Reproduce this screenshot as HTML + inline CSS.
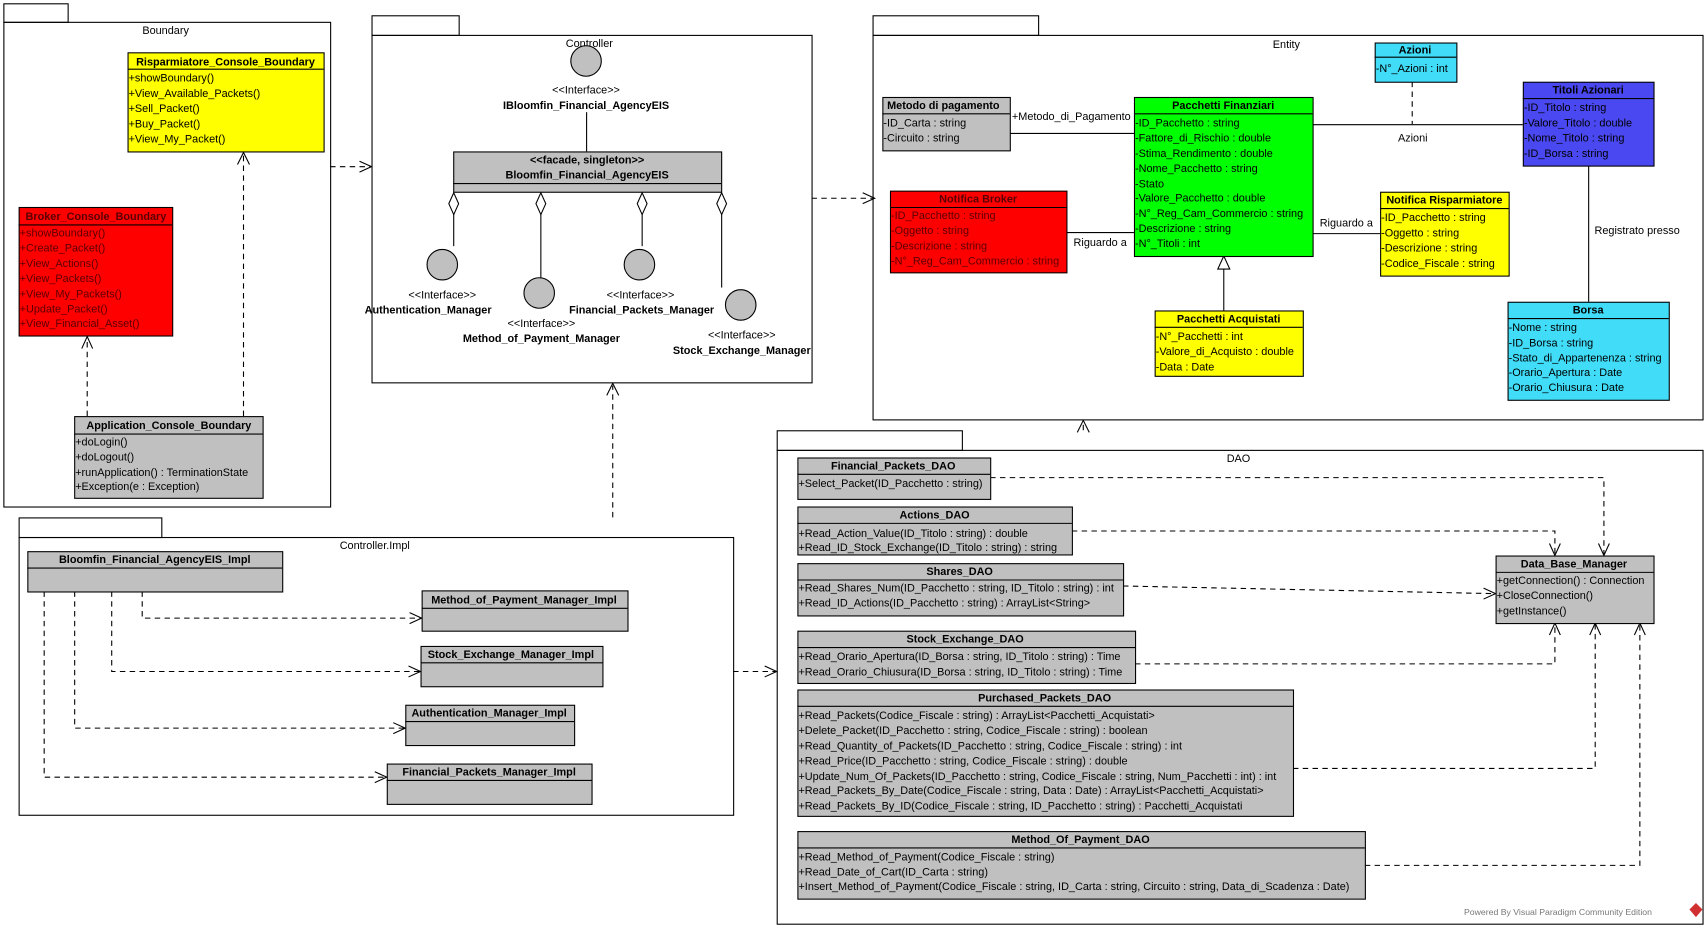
<!DOCTYPE html>
<html><head><meta charset="utf-8"><style>
html,body{margin:0;padding:0;background:#fff;}
svg{display:block}
text{font-family:"Liberation Sans",sans-serif;font-size:10px;fill:#000}
.b{font-weight:bold}
.c{text-anchor:middle}
.r text{fill:#5a0000}
</style></head><body>
<svg width="1708" height="928" viewBox="0 0 1568 852" xmlns="http://www.w3.org/2000/svg">
<g fill="none" stroke="#000" stroke-width="1">
<!-- packages -->
<rect x="3.5" y="3.5" width="59" height="17"/><rect x="3.5" y="20.5" width="300" height="445"/>
<rect x="341.5" y="14.5" width="80" height="18"/><rect x="341.5" y="32.5" width="404" height="319"/>
<rect x="801.5" y="14.5" width="152" height="18"/><rect x="801.5" y="32.5" width="762" height="353"/>
<rect x="17.5" y="475.5" width="131" height="18"/><rect x="17.5" y="493.5" width="656" height="255"/>
<rect x="713.5" y="395.5" width="170" height="18"/><rect x="713.5" y="413.5" width="850" height="435"/>
</g>
<text class="c" x="152" y="31">Boundary</text>
<text class="c" x="541" y="43">Controller</text>
<text class="c" x="1181" y="44">Entity</text>
<text class="c" x="344" y="504">Controller.Impl</text>
<text class="c" x="1137" y="424">DAO</text>

<!-- Boundary classes -->
<g stroke="#000">
<rect x="117.5" y="48.5" width="180" height="91" fill="#ffff00"/><line x1="117" y1="63.5" x2="297" y2="63.5"/>
<rect x="17.5" y="190.5" width="141" height="118" fill="#ff0000"/><line x1="17" y1="206.5" x2="158" y2="206.5"/>
<rect x="68.5" y="382.5" width="173" height="75" fill="#c0c0c0"/><line x1="68" y1="398.5" x2="241" y2="398.5"/>
</g>
<text class="b c" x="207" y="60">Risparmiatore_Console_Boundary</text>
<text x="118" y="75">+showBoundary()</text><text x="118" y="89">+View_Available_Packets()</text><text x="118" y="103">+Sell_Packet()</text><text x="118" y="117">+Buy_Packet()</text><text x="118" y="131">+View_My_Packet()</text>
<g class="r"><text class="b c" x="88" y="202">Broker_Console_Boundary</text>
<text x="18" y="217">+showBoundary()</text><text x="18" y="231">+Create_Packet()</text><text x="18" y="245">+View_Actions()</text><text x="18" y="259">+View_Packets()</text><text x="18" y="273">+View_My_Packets()</text><text x="18" y="287">+Update_Packet()</text><text x="18" y="300">+View_Financial_Asset()</text></g>
<text class="b c" x="155" y="394">Application_Console_Boundary</text>
<text x="69" y="409">+doLogin()</text><text x="69" y="423">+doLogout()</text><text x="69" y="437">+runApplication() : TerminationState</text><text x="69" y="450">+Exception(e : Exception)</text>

<g fill="none" stroke="#000" stroke-dasharray="5,4">
<line x1="80" y1="382" x2="80" y2="310"/><line x1="223.5" y1="382" x2="223.5" y2="141"/>
<line x1="303" y1="153" x2="340" y2="153"/>
<line x1="745" y1="182" x2="802" y2="182"/>
<line x1="562.5" y1="475" x2="562.5" y2="354"/>
<line x1="673" y1="616.5" x2="712" y2="616.5"/>
<line x1="994.5" y1="395" x2="994.5" y2="387"/>
<polyline points="130.5,543 130.5,567.5 386,567.5"/>
<polyline points="102.5,543 102.5,616.5 385,616.5"/>
<polyline points="68.5,543 68.5,668.5 371,668.5"/>
<polyline points="40.5,543 40.5,713.5 354,713.5"/>
<polyline points="909,438.5 1472.5,438.5 1472.5,509"/>
<polyline points="984,487.5 1427.5,487.5 1427.5,509"/>
<line x1="1031" y1="538" x2="1372" y2="545"/>
<polyline points="1042,609.5 1427.5,609.5 1427.5,573"/>
<polyline points="1187,705.5 1464.5,705.5 1464.5,573"/>
<polyline points="1253,794.5 1505.5,794.5 1505.5,573"/>
<line x1="1296.5" y1="75" x2="1296.5" y2="114"/>
</g>
<g fill="none" stroke="#000">
<polyline points="75,320 80,309 85,320"/><polyline points="218,151 223.5,140 229,151"/>
<polyline points="330,148 341,153 330,158"/><polyline points="792,177 803,182 792,187"/>
<polyline points="557,363 562.5,352 568,363"/><polyline points="702,611.5 713,616.5 702,621.5"/>
<polyline points="989,397 994.5,386 1000,397"/>
<polyline points="376,562.5 387,567.5 376,572.5"/><polyline points="375,611.5 386,616.5 375,621.5"/>
<polyline points="361,663.5 372,668.5 361,673.5"/><polyline points="344,708.5 355,713.5 344,718.5"/>
<polyline points="1467.5,499 1472.5,510 1477.5,499"/><polyline points="1422.5,499 1427.5,510 1432.5,499"/>
<polyline points="1362,540 1373,545 1362,550"/>
<polyline points="1422.5,583 1427.5,572 1432.5,583"/><polyline points="1459.5,583 1464.5,572 1469.5,583"/><polyline points="1500.5,583 1505.5,572 1510.5,583"/>
</g>

<!-- Controller -->
<g stroke="#000">
<circle cx="538" cy="56" r="14" fill="#c0c0c0"/>
<line x1="538.5" y1="103" x2="538.5" y2="139"/>
<rect x="416.5" y="139.5" width="246" height="37" fill="#c0c0c0"/><line x1="416" y1="168.5" x2="662" y2="168.5"/>
<path d="M416.5,177 L421,187 L416.5,197 L412,187 Z M496.5,177 L501,187 L496.5,197 L492,187 Z M589.5,177 L594,187 L589.5,197 L585,187 Z M662.5,177 L667,187 L662.5,197 L658,187 Z" fill="#fff"/>
<line x1="416.5" y1="197" x2="416.5" y2="226"/><line x1="496.5" y1="197" x2="496.5" y2="255"/>
<line x1="589.5" y1="197" x2="589.5" y2="226"/><line x1="662.5" y1="197" x2="662.5" y2="264"/>
<circle cx="406" cy="243" r="14" fill="#c0c0c0"/><circle cx="495" cy="269" r="14" fill="#c0c0c0"/>
<circle cx="587" cy="243" r="14" fill="#c0c0c0"/><circle cx="680" cy="280" r="14" fill="#c0c0c0"/>
</g>
<text class="c" x="538" y="86">&lt;&lt;Interface&gt;&gt;</text><text class="b c" x="538" y="100">IBloomfin_Financial_AgencyEIS</text>
<text class="b c" x="539" y="150">&lt;&lt;facade, singleton&gt;&gt;</text><text class="b c" x="539" y="164">Bloomfin_Financial_AgencyEIS</text>
<text class="c" x="406" y="274">&lt;&lt;Interface&gt;&gt;</text><text class="b c" x="393" y="288">Authentication_Manager</text>
<text class="c" x="497" y="300">&lt;&lt;Interface&gt;&gt;</text><text class="b c" x="497" y="314">Method_of_Payment_Manager</text>
<text class="c" x="588" y="274">&lt;&lt;Interface&gt;&gt;</text><text class="b c" x="589" y="288">Financial_Packets_Manager</text>
<text class="c" x="681" y="311">&lt;&lt;Interface&gt;&gt;</text><text class="b c" x="681" y="325">Stock_Exchange_Manager</text>

<!-- Entity -->
<g stroke="#000">
<line x1="927" y1="122.5" x2="1041" y2="122.5"/><line x1="979" y1="213.5" x2="1041" y2="213.5"/>
<line x1="1205" y1="214.5" x2="1267" y2="214.5"/><line x1="1205" y1="114.5" x2="1398" y2="114.5"/>
<line x1="1458.5" y1="152" x2="1458.5" y2="277"/><line x1="1123.5" y1="247" x2="1123.5" y2="285"/>
<path d="M1123.5,235 L1129,247 L1118,247 Z" fill="#fff"/>
<rect x="810.5" y="89.5" width="117" height="49" fill="#c0c0c0"/><line x1="810" y1="104.5" x2="927" y2="104.5"/>
<rect x="1041.5" y="89.5" width="164" height="146" fill="#00ff00"/><line x1="1041" y1="104.5" x2="1205" y2="104.5"/>
<rect x="817.5" y="175.5" width="162" height="75" fill="#ff0000"/><line x1="817" y1="190.5" x2="979" y2="190.5"/>
<rect x="1267.5" y="176.5" width="118" height="77" fill="#ffff00"/><line x1="1267" y1="191.5" x2="1385" y2="191.5"/>
<rect x="1060.5" y="285.5" width="136" height="60" fill="#ffff00"/><line x1="1060" y1="300.5" x2="1196" y2="300.5"/>
<rect x="1262.5" y="39.5" width="75" height="36" fill="#40dcf8"/><line x1="1262" y1="52.5" x2="1337" y2="52.5"/>
<rect x="1398.5" y="75.5" width="120" height="77" fill="#4a48f0"/><line x1="1398" y1="90.5" x2="1518" y2="90.5"/>
<rect x="1384.5" y="277.5" width="148" height="90" fill="#40dcf8"/><line x1="1384" y1="292.5" x2="1532" y2="292.5"/>
</g>
<text x="929" y="110">+Metodo_di_Pagamento</text>
<text class="c" x="1010" y="226">Riguardo a</text><text class="c" x="1236" y="208">Riguardo a</text>
<text class="c" x="1297" y="130">Azioni</text><text class="c" x="1503" y="215">Registrato presso</text>
<text class="b c" x="866" y="100">Metodo di pagamento</text>
<text x="811" y="116">-ID_Carta : string</text><text x="811" y="130">-Circuito : string</text>
<text class="b c" x="1123" y="100">Pacchetti Finanziari</text>
<text x="1042" y="116">-ID_Pacchetto : string</text><text x="1042" y="130">-Fattore_di_Rischio : double</text><text x="1042" y="144">-Stima_Rendimento : double</text><text x="1042" y="158">-Nome_Pacchetto : string</text><text x="1042" y="172">-Stato</text><text x="1042" y="185">-Valore_Pacchetto : double</text><text x="1042" y="199">-N°_Reg_Cam_Commercio : string</text><text x="1042" y="213">-Descrizione : string</text><text x="1042" y="227">-N°_Titoli : int</text>
<g class="r"><text class="b c" x="898" y="186">Notifica Broker</text>
<text x="818" y="201">-ID_Pacchetto : string</text><text x="818" y="215">-Oggetto : string</text><text x="818" y="229">-Descrizione : string</text><text x="818" y="243">-N°_Reg_Cam_Commercio : string</text></g>
<text class="b c" x="1326" y="187">Notifica Risparmiatore</text>
<text x="1268" y="203">-ID_Pacchetto : string</text><text x="1268" y="217">-Oggetto : string</text><text x="1268" y="231">-Descrizione : string</text><text x="1268" y="245">-Codice_Fiscale : string</text>
<text class="b c" x="1128" y="296">Pacchetti Acquistati</text>
<text x="1061" y="312">-N°_Pacchetti : int</text><text x="1061" y="326">-Valore_di_Acquisto : double</text><text x="1061" y="340">-Data : Date</text>
<text class="b c" x="1299" y="49">Azioni</text><text x="1263" y="66">-N°_Azioni : int</text>
<text class="b c" x="1458" y="86">Titoli Azionari</text>
<text x="1399" y="102">-ID_Titolo : string</text><text x="1399" y="116">-Valore_Titolo : double</text><text x="1399" y="130">-Nome_Titolo : string</text><text x="1399" y="144">-ID_Borsa : string</text>
<text class="b c" x="1458" y="288">Borsa</text>
<text x="1385" y="304">-Nome : string</text><text x="1385" y="318">-ID_Borsa : string</text><text x="1385" y="332">-Stato_di_Appartenenza : string</text><text x="1385" y="345">-Orario_Apertura : Date</text><text x="1385" y="359">-Orario_Chiusura : Date</text>

<!-- Controller.Impl -->
<g stroke="#000" fill="#c0c0c0">
<rect x="25.5" y="506.5" width="234" height="37"/><line x1="25" y1="521.5" x2="259" y2="521.5"/>
<rect x="387.5" y="542.5" width="189" height="37"/><line x1="387" y1="558.5" x2="576" y2="558.5"/>
<rect x="386.5" y="593.5" width="167" height="37"/><line x1="386" y1="608.5" x2="553" y2="608.5"/>
<rect x="372.5" y="647.5" width="155" height="37"/><line x1="372" y1="662.5" x2="527" y2="662.5"/>
<rect x="355.5" y="701.5" width="188" height="37"/><line x1="355" y1="716.5" x2="543" y2="716.5"/>
</g>
<text class="b c" x="142" y="517">Bloomfin_Financial_AgencyEIS_Impl</text>
<text class="b c" x="481" y="554">Method_of_Payment_Manager_Impl</text>
<text class="b c" x="469" y="604">Stock_Exchange_Manager_Impl</text>
<text class="b c" x="449" y="658">Authentication_Manager_Impl</text>
<text class="b c" x="449" y="712">Financial_Packets_Manager_Impl</text>

<!-- DAO -->
<g stroke="#000" fill="#c0c0c0">
<rect x="732.5" y="420.5" width="177" height="38"/><line x1="732" y1="435.5" x2="909" y2="435.5"/>
<rect x="732.5" y="465.5" width="252" height="44"/><line x1="732" y1="480.5" x2="984" y2="480.5"/>
<rect x="732.5" y="517.5" width="299" height="48"/><line x1="732" y1="532.5" x2="1031" y2="532.5"/>
<rect x="732.5" y="579.5" width="310" height="48"/><line x1="732" y1="594.5" x2="1042" y2="594.5"/>
<rect x="732.5" y="633.5" width="455" height="116"/><line x1="732" y1="648.5" x2="1187" y2="648.5"/>
<rect x="732.5" y="763.5" width="521" height="62"/><line x1="732" y1="778.5" x2="1253" y2="778.5"/>
<rect x="1373.5" y="510.5" width="145" height="62"/><line x1="1373" y1="525.5" x2="1518" y2="525.5"/>
</g>
<text class="b c" x="820" y="431">Financial_Packets_DAO</text><text x="733" y="447">+Select_Packet(ID_Pacchetto : string)</text>
<text class="b c" x="858" y="476">Actions_DAO</text><text x="733" y="493">+Read_Action_Value(ID_Titolo : string) : double</text><text x="733" y="506">+Read_ID_Stock_Exchange(ID_Titolo : string) : string</text>
<text class="b c" x="881" y="528">Shares_DAO</text><text x="733" y="543">+Read_Shares_Num(ID_Pacchetto : string, ID_Titolo : string) : int</text><text x="733" y="557">+Read_ID_Actions(ID_Pacchetto : string) : ArrayList&lt;String&gt;</text>
<text class="b c" x="886" y="590">Stock_Exchange_DAO</text><text x="733" y="606">+Read_Orario_Apertura(ID_Borsa : string, ID_Titolo : string) : Time</text><text x="733" y="620">+Read_Orario_Chiusura(ID_Borsa : string, ID_Titolo : string) : Time</text>
<text class="b c" x="959" y="644">Purchased_Packets_DAO</text>
<text x="733" y="660">+Read_Packets(Codice_Fiscale : string) : ArrayList&lt;Pacchetti_Acquistati&gt;</text>
<text x="733" y="674">+Delete_Packet(ID_Pacchetto : string, Codice_Fiscale : string) : boolean</text>
<text x="733" y="688">+Read_Quantity_of_Packets(ID_Pacchetto : string, Codice_Fiscale : string) : int</text>
<text x="733" y="702">+Read_Price(ID_Pacchetto : string, Codice_Fiscale : string) : double</text>
<text x="733" y="716">+Update_Num_Of_Packets(ID_Pacchetto : string, Codice_Fiscale : string, Num_Pacchetti : int) : int</text>
<text x="733" y="729">+Read_Packets_By_Date(Codice_Fiscale : string, Data : Date) : ArrayList&lt;Pacchetti_Acquistati&gt;</text>
<text x="733" y="743">+Read_Packets_By_ID(Codice_Fiscale : string, ID_Pacchetto : string) : Pacchetti_Acquistati</text>
<text class="b c" x="992" y="774">Method_Of_Payment_DAO</text>
<text x="733" y="790">+Read_Method_of_Payment(Codice_Fiscale : string)</text>
<text x="733" y="804">+Read_Date_of_Cart(ID_Carta : string)</text>
<text x="733" y="817">+Insert_Method_of_Payment(Codice_Fiscale : string, ID_Carta : string, Circuito : string, Data_di_Scadenza : Date)</text>
<text class="b c" x="1445" y="521">Data_Base_Manager</text>
<text x="1374" y="536">+getConnection() : Connection</text><text x="1374" y="550">+CloseConnection()</text><text x="1374" y="564">+getInstance()</text>
<text x="1344" y="840" style="font-size:8px;fill:#777">Powered By Visual Paradigm Community Edition</text>
<path d="M1557,829 L1563,835 L1557,842 L1551,835 Z" fill="#d03030"/>
</svg>
</body></html>
